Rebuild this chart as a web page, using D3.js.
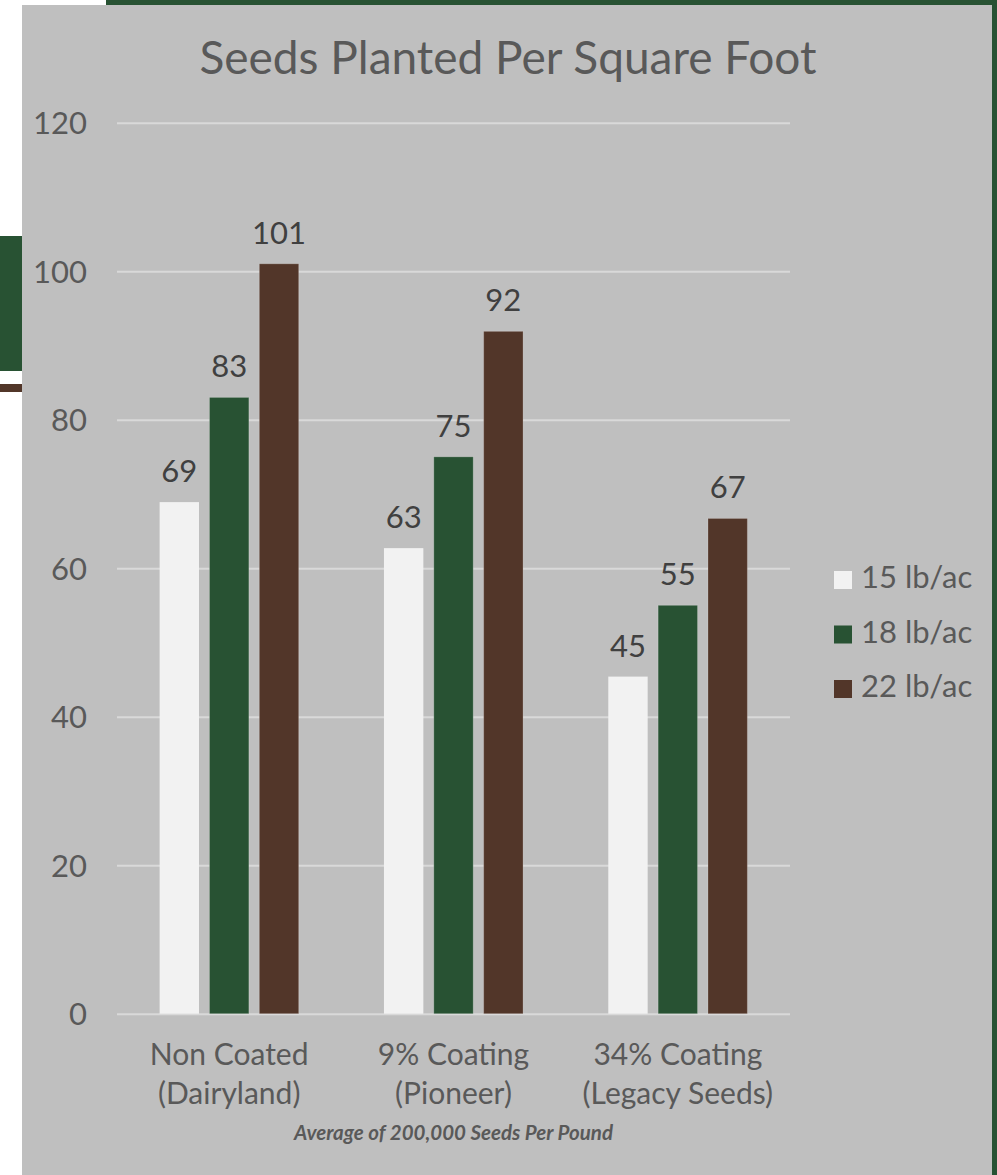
<!DOCTYPE html>
<html>
<head>
<meta charset="utf-8">
<script src="https://cdn.jsdelivr.net/npm/d3@7"></script>
<style>
  html, body { margin: 0; padding: 0; background: #ffffff; }
  svg { display: block; }
  text { font-family: Lato, "Open Sans", sans-serif; }
</style>
</head>
<body>
<svg id="chart" width="997" height="1175"></svg>
<script>
const categories = [["Non Coated", "(Dairyland)"], ["9% Coating", "(Pioneer)"], ["34% Coating", "(Legacy Seeds)"]];
const seriesNames = ["15 lb/ac", "18 lb/ac", "22 lb/ac"];
const seriesColors = ["#F2F2F2", "#285233", "#523629"];
const values15 = [68.9, 62.7, 45.4];
const values18 = [83.0, 75.0, 55.0];
const values22 = [101.0, 91.9, 66.7];
const yTicks = [0, 20, 40, 60, 80, 100, 120];
const title = "Seeds Planted Per Square Foot";
const footnote = "Average of 200,000 Seeds Per Pound";

const seriesValues = [values15, values18, values22];
const svg = d3.select("#chart");
const W = 997, H = 1175;

// page decorations
svg.append("rect").attr("x", 0).attr("y", 0).attr("width", W).attr("height", H).attr("fill", "#ffffff");
svg.append("rect").attr("x", 0).attr("y", 236).attr("width", 22).attr("height", 135).attr("fill", "#285233");
svg.append("rect").attr("x", 0).attr("y", 384).attr("width", 22).attr("height", 8).attr("fill", "#523629");
svg.append("rect").attr("x", 106).attr("y", 0).attr("width", W - 106).attr("height", 5).attr("fill", "#285233");
svg.append("rect").attr("x", 992).attr("y", 0).attr("width", 5).attr("height", H).attr("fill", "#285233");
// chart area
svg.append("rect").attr("x", 22).attr("y", 5).attr("width", 970).attr("height", H - 5).attr("fill", "#BFBFBF");

const plot = { left: 117, right: 790, top: 122.7, bottom: 1013.7 };

const y = d3.scaleLinear().domain([0, 120]).range([plot.bottom, plot.top]);
const x0 = d3.scaleBand().domain(d3.range(categories.length)).range([plot.left, plot.right]).padding(0);
const groupPad = x0.bandwidth() * 0.19;
const x1 = d3.scaleBand().domain(d3.range(seriesNames.length))
  .range([groupPad, x0.bandwidth() - groupPad]).paddingInner(0.21).paddingOuter(0);

// title
svg.append("text").attr("x", 508).attr("y", 74).attr("text-anchor", "middle")
  .attr("font-size", 46).attr("fill", "#595959").text(title);

// gridlines
const yAxis = d3.axisLeft(y).tickValues(yTicks).tickSize(-(plot.right - plot.left)).tickPadding(30).tickFormat(d3.format("d"));
const gAxis = svg.append("g").attr("transform", `translate(${plot.left},0)`).call(yAxis);
gAxis.select(".domain").remove();
gAxis.selectAll(".tick line").attr("stroke", "#D9D9D9").attr("stroke-width", 2);
gAxis.selectAll(".tick text").attr("font-size", 31).attr("fill", "#595959")
  .attr("font-family", "Lato, 'Open Sans', sans-serif").attr("x", 87 - plot.left).attr("dy", "0.35em");

// bars
const groups = svg.append("g").selectAll("g").data(categories).join("g")
  .attr("transform", (d, i) => `translate(${x0(i)},0)`);

groups.each(function(cat, ci) {
  const g = d3.select(this);
  seriesValues.forEach((vals, si) => {
    const v = vals[ci];
    g.append("rect")
      .attr("x", x1(si)).attr("y", y(v))
      .attr("width", x1.bandwidth()).attr("height", y(0) - y(v))
      .attr("fill", seriesColors[si])
      .attr("stroke", si === 0 ? "none" : "rgba(255,255,255,0.2)").attr("stroke-width", 1);
    g.append("text")
      .attr("x", x1(si) + x1.bandwidth() / 2).attr("y", y(v) - 20)
      .attr("text-anchor", "middle").attr("font-size", 31).attr("fill", "#404040")
      .text(d3.format(".0f")(v));
  });
});

// category labels
categories.forEach((lines, ci) => {
  const cx = x0(ci) + x0.bandwidth() / 2;
  lines.forEach((ln, li) => {
    svg.append("text").attr("x", cx).attr("y", 1065 + li * 39)
      .attr("text-anchor", "middle").attr("font-size", 30).attr("fill", "#595959").text(ln);
  });
});

// footnote
svg.append("text").attr("x", (plot.left + plot.right) / 2).attr("y", 1140)
  .attr("text-anchor", "middle").attr("font-size", 20.5).attr("font-weight", "bold")
  .attr("font-style", "italic").attr("fill", "#595959").text(footnote);

// legend
const legend = svg.append("g").selectAll("g").data(seriesNames).join("g")
  .attr("transform", (d, i) => `translate(834,${571 + i * 54.5})`);
legend.append("rect").attr("width", 18).attr("height", 18).attr("fill", (d, i) => seriesColors[i]);
legend.append("text").attr("x", 27).attr("y", 17).attr("font-size", 31).attr("fill", "#595959").text(d => d);
</script>
</body>
</html>
